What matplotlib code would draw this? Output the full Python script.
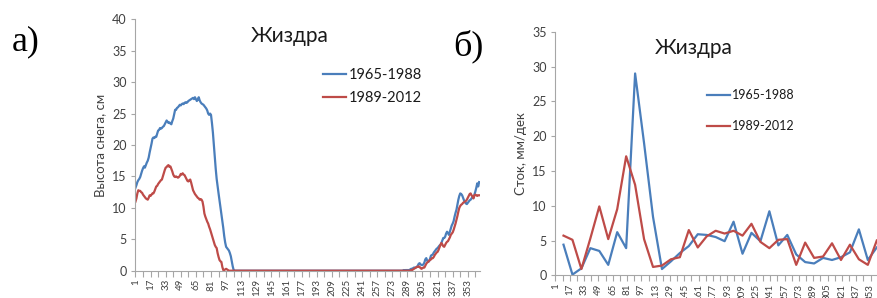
import numpy as np
import matplotlib
matplotlib.use("Agg")
import matplotlib.pyplot as plt

plt.rcParams['font.family'] = ['Lato', 'Open Sans', 'DejaVu Sans']

# --- a) snow depth, daily, days 1..365 ---
snow_early_1965 = [
    13.2, 13.6, 14.1, 14.4, 14.6, 14.9, 15.4, 15.9, 16.3, 16.6,
    16.4, 16.8, 17.2, 17.5, 18.0, 18.8, 19.5, 20.2, 21.0, 21.2,
    21.1, 21.3, 21.3, 21.8, 22.3, 22.4, 22.7, 22.6, 22.7, 22.9,
    23.0, 23.3, 23.6, 23.9, 23.7, 23.5, 23.6, 23.4, 23.3, 23.8,
    24.2, 24.9, 25.6, 25.6, 25.9, 26.0, 26.2, 26.4, 26.3, 26.5,
    26.6, 26.5, 26.7, 26.8, 26.7, 26.8, 27.0, 27.1, 27.2, 27.3,
    27.4, 27.5, 27.3, 27.6, 27.3, 27.0, 27.2, 27.6, 27.1, 26.8,
    26.6, 26.5, 26.4, 26.2, 26.0, 25.8, 25.5, 25.0, 24.8, 25.0,
    24.8, 23.5, 22.0, 20.0, 18.1, 16.2, 14.6, 13.4, 12.3, 11.2,
    10.2, 9.1, 8.0, 6.8, 5.5, 4.5, 3.8, 3.6, 3.4, 3.2,
    2.8, 2.3, 1.5, 0.7, 0.1, 0, 0, 0, 0, 0,
]
snow_early_1989 = [
    11.0, 11.5, 12.3, 12.8, 12.7, 12.7, 12.5, 12.4, 12.1, 11.9,
    11.7, 11.5, 11.4, 11.3, 11.6, 12.0, 11.9, 12.1, 12.3, 12.3,
    12.6, 13.0, 13.4, 13.5, 13.8, 14.0, 14.2, 14.4, 14.5, 15.0,
    15.5, 16.0, 16.4, 16.5, 16.7, 16.8, 16.5, 16.6, 16.2, 15.8,
    15.3, 15.0, 14.9, 15.0, 14.9, 14.8, 14.9, 15.1, 15.4, 15.3,
    15.5, 15.3, 15.2, 14.9, 14.6, 14.3, 14.2, 14.4, 14.5, 14.0,
    13.4, 12.8, 12.5, 12.2, 12.0, 11.8, 11.6, 11.5, 11.3, 11.4,
    11.3, 11.0, 10.2, 9.1, 8.6, 8.2, 7.8, 7.5, 7.0, 6.6,
    6.1, 5.6, 5.1, 4.6, 4.1, 3.8, 3.6, 2.8, 2.2, 1.7,
    1.5, 1.4, 0.6, 0.1, 0.1, 0.2, 0.3, 0.2, 0.1, 0,
    0, 0, 0, 0, 0, 0, 0, 0, 0, 0,
]
# days 111..279: no snow on both curves
snow_summer = [0.0] * 169
snow_late_1965 = [
    0, 0, 0, 0, 0, 0.1, 0, 0.1, 0.1, 0.1,
    0.1, 0.1, 0.2, 0.3, 0.3, 0.4, 0.5, 0.5, 0.5, 0.6,
    0.8, 1.1, 1.2, 1.0, 0.9, 0.9, 1.0, 1.3, 1.8, 2.0,
    1.6, 1.4, 1.5, 1.9, 2.4, 2.5, 2.6, 2.9, 3.1, 3.3,
    3.5, 3.6, 3.8, 4.0, 4.1, 4.4, 4.8, 5.2, 5.2, 5.4,
    5.9, 6.2, 6.0, 5.7, 6.2, 6.7, 7.2, 7.5, 7.9, 8.6,
    9.2, 9.7, 10.5, 11.3, 11.9, 12.3, 12.2, 12.0, 11.6, 11.2,
    10.9, 10.7, 10.6, 10.8, 11.0, 11.2, 11.3, 11.5, 11.8, 11.6,
    12.1, 12.6, 13.2, 13.9, 13.4, 14.1,
]
snow_late_1989 = [
    0, 0, 0, 0, 0, 0, 0, 0, 0, 0,
    0, 0, 0, 0.1, 0.1, 0.2, 0.3, 0.4, 0.5, 0.6,
    0.6, 0.7, 0.6, 0.4, 0.3, 0.4, 0.5, 0.5, 0.8, 1.1,
    1.3, 1.4, 1.6, 1.7, 1.8, 2.0, 2.0, 2.2, 2.5, 2.7,
    2.9, 3.0, 3.3, 3.7, 4.1, 4.4, 4.2, 3.9, 3.8, 4.1,
    4.4, 4.6, 4.7, 5.0, 5.3, 5.7, 5.9, 6.1, 6.5, 7.0,
    7.5, 8.1, 8.7, 9.4, 10.0, 10.3, 10.5, 10.6, 10.8, 10.9,
    11.0, 11.1, 11.3, 11.6, 11.9, 12.2, 12.3, 12.0, 11.8, 11.5,
    12.0, 12.1, 12.0, 11.9, 12.0, 12.0,
]
snow_1965 = snow_early_1965 + snow_summer + snow_late_1965
snow_1989 = snow_early_1989 + snow_summer + snow_late_1989
days = np.arange(1, len(snow_1965) + 1)

# --- б) runoff by decade (10-day periods), plotted at day 10, 20, ... 360 ---
decade_day = np.arange(10, 361, 10)
runoff_1965 = [4.4, 0.1, 1.0, 3.9, 3.5, 1.5, 6.2, 3.9, 29.0, 19.0,
               8.4, 0.9, 2.0, 3.2, 4.2, 5.9, 5.8, 5.5, 4.9, 7.7,
               3.1, 6.1, 4.9, 9.2, 4.3, 5.8, 3.0, 1.9, 1.7, 2.5,
               2.2, 2.6, 3.3, 6.6, 2.2, 4.0]
runoff_1989 = [5.7, 5.1, 0.9, 5.3, 9.9, 5.2, 9.5, 17.1, 13.0, 5.2,
               1.2, 1.4, 2.3, 2.6, 6.5, 4.0, 5.6, 6.4, 6.0, 6.4,
               5.7, 7.4, 4.8, 3.9, 5.1, 5.2, 1.5, 4.7, 2.5, 2.7,
               4.6, 2.2, 4.4, 2.3, 1.5, 5.0]

labels = ['1965-1988', '1989-2012']
blue = '#4A7EBB'
red = '#BE4B48'
axis_gray = '#A6A6A6'
text_gray = '#404040'

W, H = 877, 298
fig = plt.figure(figsize=(W / 100, H / 100), dpi=100)


def px_axes(left, right, bottom, top):
    return fig.add_axes([left / W, (H - bottom) / H, (right - left) / W, (bottom - top) / H])


def style(ax, ymax):
    for s in ['top', 'right']:
        ax.spines[s].set_visible(False)
    for s in ['left', 'bottom']:
        ax.spines[s].set_color(axis_gray)
        ax.spines[s].set_linewidth(0.8)
    ax.set_xlim(0.5, 365.5)
    ax.set_ylim(0, ymax)
    ax.set_yticks(np.arange(0, ymax + 1, 5))
    ax.set_xticks(np.arange(1, 366, 16))
    ax.set_xticks(np.arange(9, 366, 16), minor=True)
    ax.tick_params(axis='both', which='both', direction='out', color=axis_gray,
                   width=0.8, labelcolor=text_gray)
    ax.tick_params(axis='x', which='both', length=4, labelsize=7, labelrotation=90, pad=2)
    ax.tick_params(axis='y', length=3, labelsize=9, pad=3)


# left panel
ax1 = px_axes(135, 479.6, 270.7, 19.3)
ax1.plot(days, snow_1965, color=blue, lw=1.6, label=labels[0])
ax1.plot(days, snow_1989, color=red, lw=1.6, label=labels[1])
style(ax1, 40)
ax1.set_ylabel('Высота снега, см', fontsize=9.5, color=text_gray, labelpad=4)
ax1.text(0.448, 0.935, 'Жиздра', transform=ax1.transAxes, ha='center', va='center',
         fontsize=15, color='#1a1a1a')
ax1.legend(loc='upper left', bbox_to_anchor=(0.545, 0.805), frameon=False, fontsize=10.5,
           handlelength=1.6, handletextpad=0.15, labelspacing=0.6, borderpad=0,
           borderaxespad=0, labelcolor='#1a1a1a')

# right panel
ax2 = px_axes(555, 881.7, 275.3, 31.7)
ax2.plot(decade_day, runoff_1965, color=blue, lw=1.6, label=labels[0])
ax2.plot(decade_day, runoff_1989, color=red, lw=1.6, label=labels[1])
style(ax2, 35)
ax2.set_ylabel('Сток, мм/дек', fontsize=9.5, color=text_gray, labelpad=4)
ax2.text(0.425, 0.935, 'Жиздра', transform=ax2.transAxes, ha='center', va='center',
         fontsize=15, color='#1a1a1a')
ax2.legend(loc='upper left', bbox_to_anchor=(0.465, 0.765), frameon=False, fontsize=9,
           handlelength=1.85, handletextpad=0.15, labelspacing=1.55, borderpad=0,
           borderaxespad=0, labelcolor='#1a1a1a')

# panel letters
serif = ['Liberation Serif', 'DejaVu Serif']
fig.text(12 / W, 1 - 42 / H, 'а)', fontsize=26, family=serif, va='center', ha='left')
fig.text(453 / W, 1 - 46 / H, 'б)', fontsize=26, family=serif, va='center', ha='left')

fig.savefig('out.png', dpi=100)
